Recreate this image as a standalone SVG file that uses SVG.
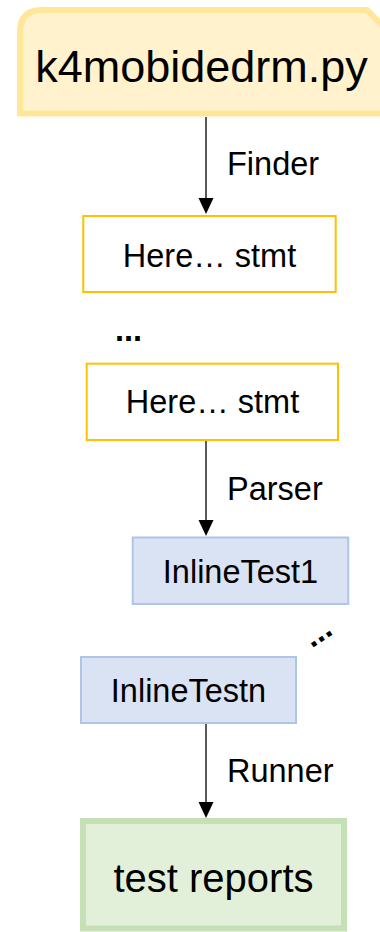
<svg xmlns="http://www.w3.org/2000/svg" width="380" height="932" viewBox="0 0 380 932">
<style>
text { font-family: "Liberation Sans", Arial, sans-serif; fill: #000; }
.n { font-size: 32.5px; text-anchor: middle; }
.lbl { font-size: 32.5px; }
.dots { font-size: 32.5px; font-weight: bold; }
.stmt { fill: #fff; stroke: #FFC000; stroke-width: 2; }
.it { fill: #DAE3F3; stroke: #AEC5E8; stroke-width: 2; }
.conn { stroke: #000; stroke-width: 1.3; fill: none; }
.head { fill: #000; }
</style>
<rect width="380" height="932" fill="#fff"/>
<g id="file">
  <path d="M20,113.5 L20,32 Q20,10 42,10 L367,10 L395,38 L395,113.5 Z" fill="#FFF2CC" stroke="#FFE699" stroke-width="6"/>
  <text x="201.5" y="82" font-size="45" text-anchor="middle">k4mobidedrm.py</text>
</g>
<g id="stmt1">
  <rect class="stmt" x="83.3" y="216" width="252.4" height="76"/>
  <text class="n" x="209.5" y="267">Here… stmt</text>
</g>
<g id="dots1">
  <text class="dots" x="115" y="341">...</text>
</g>
<g id="stmt2">
  <rect class="stmt" x="86.7" y="363.7" width="251.3" height="76.3"/>
  <text class="n" x="212.5" y="413">Here… stmt</text>
</g>
<g id="inline1">
  <rect class="it" x="132.7" y="537.5" width="215.6" height="66.5"/>
  <text class="n" x="240.5" y="582.7">InlineTest1</text>
</g>
<g id="dots2">
  <text class="dots" transform="translate(314,644) rotate(-34)" x="-4.5" y="2.5">...</text>
</g>
<g id="inlinen">
  <rect class="it" x="81" y="657" width="215" height="66"/>
  <text class="n" x="188.5" y="701.7">InlineTestn</text>
</g>
<g id="reports">
  <rect x="83" y="821" width="261" height="107.5" fill="#E2F0D9" stroke="#C5E0B4" stroke-width="6"/>
  <text x="213.5" y="891.7" font-size="40" text-anchor="middle">test reports</text>
</g>
<g id="connectors">
  <line class="conn" x1="206" y1="117" x2="206" y2="200"/>
  <polygon class="head" points="198.5,198 213.5,198 206,214"/>
  <text class="lbl" x="227" y="175">Finder</text>
  <line class="conn" x1="206" y1="441" x2="206" y2="522"/>
  <polygon class="head" points="198.5,520 213.5,520 206,536"/>
  <text class="lbl" x="227" y="500">Parser</text>
  <line class="conn" x1="206" y1="724" x2="206" y2="804"/>
  <polygon class="head" points="198.5,802 213.5,802 206,818"/>
  <text class="lbl" x="227" y="781.7">Runner</text>
</g>
</svg>
